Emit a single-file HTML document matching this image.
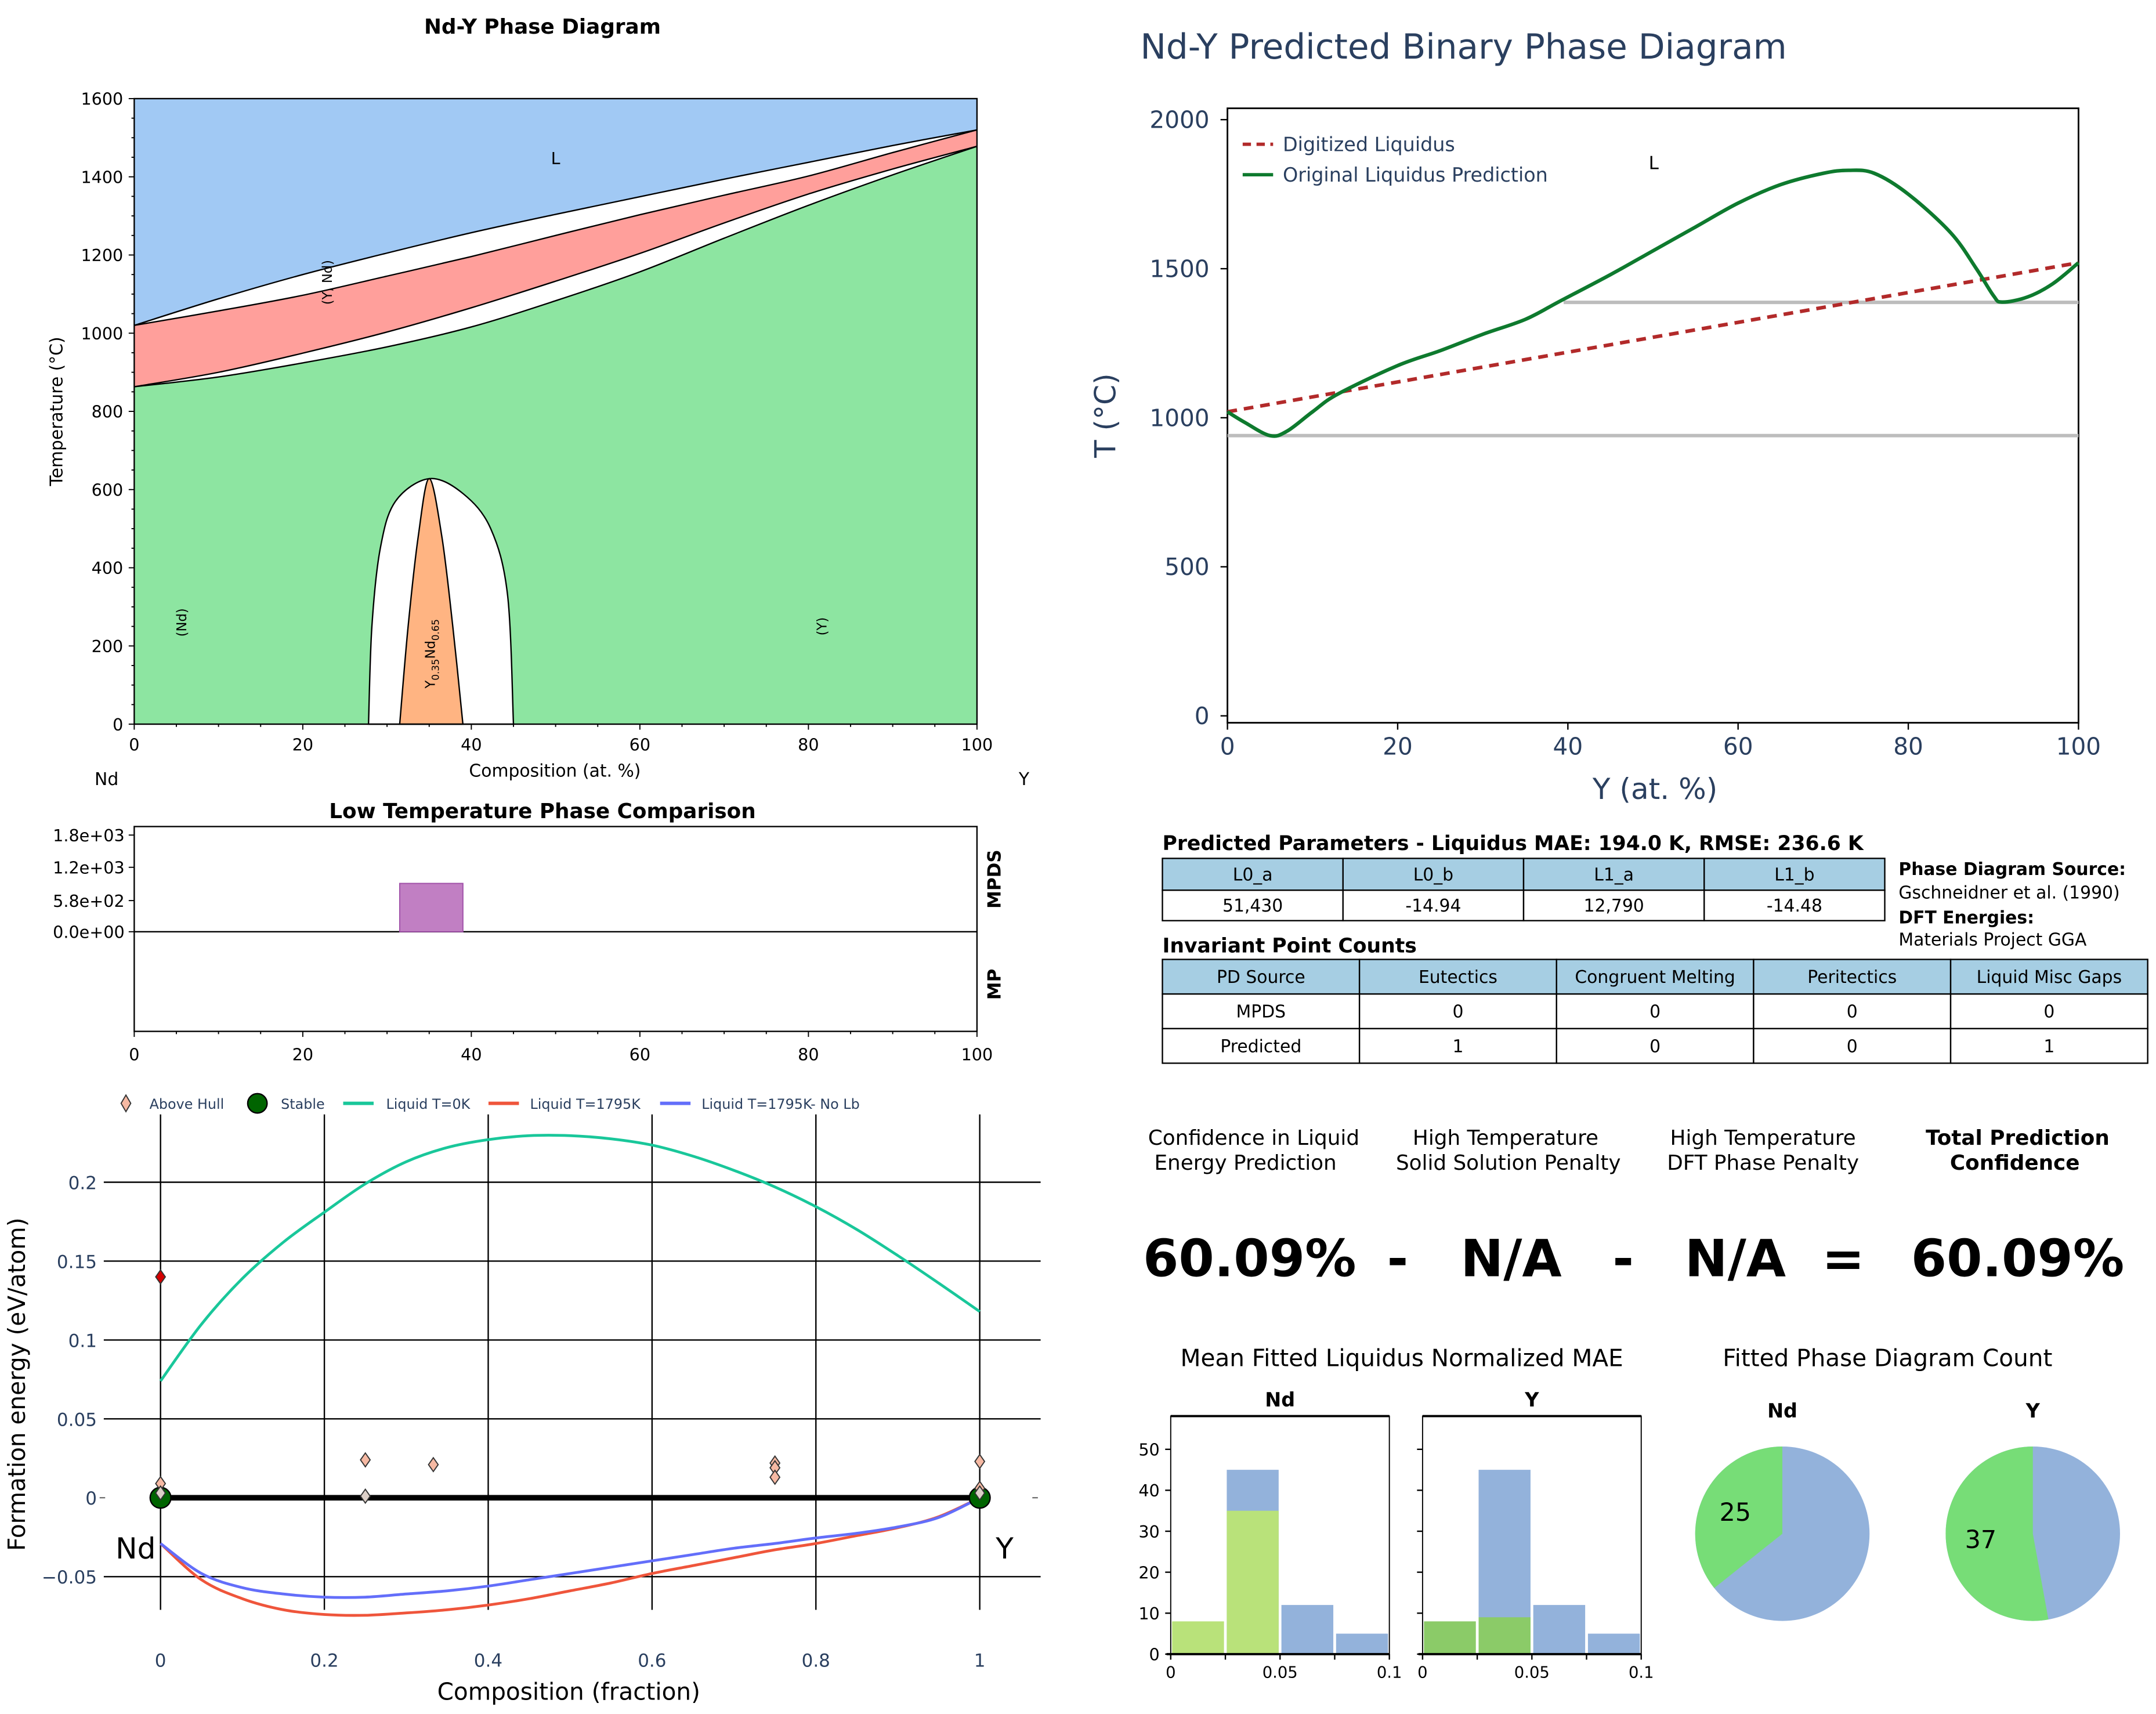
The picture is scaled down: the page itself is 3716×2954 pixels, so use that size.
<!DOCTYPE html>
<html><head><meta charset="utf-8"><style>
html,body{margin:0;padding:0;background:#fff}
svg{display:block}
text{font-family:"DejaVu Sans","Liberation Sans",sans-serif}
</style></head><body>
<svg id="root" xmlns="http://www.w3.org/2000/svg" width="3716" height="2954" viewBox="0 0 1558 1238">
<rect width="1558" height="1238" fill="#fff"/>
<g id="pd">
<text x="392" y="24" text-anchor="middle" font-size="15" font-weight="bold">Nd-Y Phase Diagram</text>
<text x="401" y="561" text-anchor="middle" font-size="12.5">Composition (at. %)</text>
<text x="77" y="567" text-anchor="middle" font-size="12.5">Nd</text>
<text x="740" y="567" text-anchor="middle" font-size="12.5">Y</text>
<text transform="translate(45,297) rotate(-90)" text-anchor="middle" font-size="12.5">Temperature (°C)</text>
</g>
<g id="lt">
<text x="392" y="591" text-anchor="middle" font-size="15" font-weight="bold">Low Temperature Phase Comparison</text>
<rect x="97" y="597" width="609" height="148" fill="none" stroke="#000" stroke-width="1"/>
<line x1="97" y1="673" x2="706" y2="673" stroke="#000" stroke-width="1"/>
<text transform="translate(723,635) rotate(-90)" text-anchor="middle" font-size="13" font-weight="bold">MPDS</text>
<text transform="translate(723,711) rotate(-90)" text-anchor="middle" font-size="13" font-weight="bold">MP</text>
</g>
<g id="fe">
<text transform="translate(18,1000) rotate(-90)" text-anchor="middle" font-size="17" fill="#000">Formation energy (eV/atom)</text>
<text x="411" y="1228" text-anchor="middle" font-size="17" fill="#000">Composition (fraction)</text>
<text x="98" y="1126" text-anchor="middle" font-size="21">Nd</text>
<text x="726" y="1126" text-anchor="middle" font-size="21">Y</text>
</g>
<g id="rt">
<text x="824" y="42" font-size="25" fill="#2a3f5f">Nd-Y Predicted Binary Phase Diagram</text>
<text x="1196" y="577" text-anchor="middle" font-size="21" fill="#2a3f5f">Y (at. %)</text>
<text transform="translate(806,300) rotate(-90)" text-anchor="middle" font-size="21" fill="#2a3f5f">T (°C)</text>
<text x="1195" y="122" text-anchor="middle" font-size="13">L</text>
</g>
<g id="tb">
<text x="840" y="614" font-size="14.5" font-weight="bold">Predicted Parameters - Liquidus MAE: 194.0 K, RMSE: 236.6 K</text>
<text x="840" y="688" font-size="14.5" font-weight="bold">Invariant Point Counts</text>
<text x="1372" y="632" font-size="12.5" font-weight="bold">Phase Diagram Source:</text>
<text x="1372" y="649" font-size="12.5">Gschneidner et al. (1990)</text>
<text x="1372" y="667" font-size="12.5" font-weight="bold">DFT Energies:</text>
<text x="1372" y="683" font-size="12.5">Materials Project GGA</text>
</g>
<g id="cf">
<text x="906" y="827" text-anchor="middle" font-size="15">Confidence in Liquid</text>
<text x="900" y="845" text-anchor="middle" font-size="15">Energy Prediction</text>
<text x="1088" y="827" text-anchor="middle" font-size="15">High Temperature</text>
<text x="1090" y="845" text-anchor="middle" font-size="15">Solid Solution Penalty</text>
<text x="1274" y="827" text-anchor="middle" font-size="15">High Temperature</text>
<text x="1274" y="845" text-anchor="middle" font-size="15">DFT Phase Penalty</text>
<text x="1458" y="827" text-anchor="middle" font-size="15" font-weight="bold">Total Prediction</text>
<text x="1456" y="845" text-anchor="middle" font-size="15" font-weight="bold">Confidence</text>
<text x="903" y="922" text-anchor="middle" font-size="37" font-weight="bold">60.09%</text>
<text x="1010" y="922" text-anchor="middle" font-size="37" font-weight="bold">-</text>
<text x="1092" y="922" text-anchor="middle" font-size="37" font-weight="bold">N/A</text>
<text x="1173" y="922" text-anchor="middle" font-size="37" font-weight="bold">-</text>
<text x="1254" y="922" text-anchor="middle" font-size="37" font-weight="bold">N/A</text>
<text x="1332" y="922" text-anchor="middle" font-size="37" font-weight="bold">=</text>
<text x="1458" y="922" text-anchor="middle" font-size="37" font-weight="bold">60.09%</text>
</g>
<g id="hist">
<text x="1013" y="987" text-anchor="middle" font-size="17">Mean Fitted Liquidus Normalized MAE</text>
</g>
<g id="pies">
<text x="1364" y="987" text-anchor="middle" font-size="17">Fitted Phase Diagram Count</text>
</g>
</svg>
<script>
const NS="http://www.w3.org/2000/svg";
function el(tag,attrs,parent,txt){const e=document.createElementNS(NS,tag);for(const k in attrs)e.setAttribute(k,attrs[k]);if(txt!==undefined)e.textContent=txt;(parent||document.getElementById('root')).appendChild(e);return e;}
function smooth(pts){let d='M'+pts[0][0]+','+pts[0][1];for(let i=0;i<pts.length-1;i++){const p0=pts[Math.max(i-1,0)],p1=pts[i],p2=pts[i+1],p3=pts[Math.min(i+2,pts.length-1)];const c1=[p1[0]+(p2[0]-p0[0])/6,p1[1]+(p2[1]-p0[1])/6],c2=[p2[0]-(p3[0]-p1[0])/6,p2[1]-(p3[1]-p1[1])/6];d+=' C'+c1[0].toFixed(2)+','+c1[1].toFixed(2)+' '+c2[0].toFixed(2)+','+c2[1].toFixed(2)+' '+p2[0].toFixed(2)+','+p2[1].toFixed(2);}return d;}

const pdX=[0,10,20,30,40,50,60,70,80,90,100];
const pdLiquidus=[1020,1088,1150,1205,1257,1304,1349,1394,1437,1480,1520];
const pdRedTop=[1020,1057,1097,1146,1196,1250,1303,1353,1402,1462,1520];
const pdRedBottom=[863,900,949,1003,1065,1133,1204,1282,1356,1420,1478];
const pdSolidus=[863,888,924,965,1016,1083,1157,1243,1327,1405,1478];
const pdDomeOuter=[[27.8,0],[28.2,250],[29.2,450],[31,570],[35,628],[39,590],[42.3,500],[44.3,330],[45,0]];
const pdDomeInner=[[31.5,0],[32.5,250],[33.7,480],[35,628],[36.5,480],[37.8,250],[39,0]];
const pdXTicks=[0,20,40,60,80,100];
const pdYTicks=[0,200,400,600,800,1000,1200,1400,1600];
(function(){
const g=document.getElementById('pd');
const px=x=>97+x*6.09, pT=T=>523-T*0.2825;
const line=arr=>pdX.map((x,i)=>[px(x),pT(arr[i])]);
const bg=el('rect',{x:97,y:71,width:609,height:452,fill:'#ffffff'},g);


const liq=line(pdLiquidus);
const blue=el('path',{d:smooth(liq)+' L706,71 L97,71 Z',fill:'#a1c9f4'},g);


const rt=line(pdRedTop), rb=line(pdRedBottom);
const red=el('path',{d:smooth(rt)+' L'+rb[rb.length-1].join(',')+' '+smooth(rb.slice().reverse()).replace(/^M[^ ]+/,'')+' Z',fill:'#ff9f9b'},g);


const sol=line(pdSolidus);
const green=el('path',{d:smooth(sol)+' L706,523 L97,523 Z',fill:'#8de5a1'},g);


const dO=pdDomeOuter.map(p=>[px(p[0]),pT(p[1])]);
const dome=el('path',{d:smooth(dO)+' Z',fill:'#ffffff',stroke:'#000','stroke-width':1},g);


const dI=pdDomeInner.map(p=>[px(p[0]),pT(p[1])]);
const inner=el('path',{d:smooth(dI)+' Z',fill:'#ffb482',stroke:'#000','stroke-width':1},g);


[liq,rt,rb,sol].forEach((ln,i)=>{const b=el('path',{d:smooth(ln),fill:'none',stroke:'#000','stroke-width':1},g);

});
const fr=el('rect',{x:97,y:71,width:609,height:452,fill:'none',stroke:'#000','stroke-width':1},g);


for(let v=0;v<=100;v+=5){const t=el('line',{x1:px(v),x2:px(v),y1:523,y2:v%20==0?527:525,stroke:'#000','stroke-width':0.8},g);

}
for(let v=0;v<=1600;v+=50){const t=el('line',{x1:97,x2:v%200==0?93:95,y1:pT(v),y2:pT(v),stroke:'#000','stroke-width':0.8},g);

}
pdXTicks.forEach(v=>{const t=el('text',{x:px(v),y:542,'text-anchor':'middle','font-size':12},g,String(v));

});
pdYTicks.forEach(v=>{const t=el('text',{x:89,y:pT(v)+4.5,'text-anchor':'end','font-size':12},g,String(v));

});
const L=el('text',{x:px(50),y:pT(1450)+5,'text-anchor':'middle','font-size':12},g,'L');


const labs=[['(Y, Nd)',22.8,1130],['(Nd)',5.5,260],['(Y)',81.5,250]];
labs.forEach(l=>{const t=el('text',{transform:'translate('+(px(l[1])+4)+','+pT(l[2])+') rotate(-90)','text-anchor':'middle','font-size':9.5},g,l[0]);

});
const cmp=el('text',{transform:'translate('+(px(35)+4)+','+pT(180)+') rotate(-90)','text-anchor':'middle','font-size':9.5},g);


cmp.innerHTML='Y<tspan font-size="7" dy="3">0.35</tspan><tspan dy="-3">Nd</tspan><tspan font-size="7" dy="3">0.65</tspan>';
})();

const ltTickVals=[0,580,1200,1800];
const ltTickLabels=['0.0e+00','5.8e+02','1.2e+03','1.8e+03'];
const ltBarStart=[31.5];
const ltBarEnd=[39];
const ltBarHeight=[900];
(function(){
const g=document.getElementById('lt');
const px=x=>97+x*6.09, py=v=>673-v*0.0388;
ltBarStart.forEach((s,i)=>{const b=el('rect',{x:px(s),y:py(ltBarHeight[i]),width:px(ltBarEnd[i])-px(s),height:673-py(ltBarHeight[i]),fill:'#c17fc3',stroke:'#a050a8','stroke-width':0.8},g);

});
ltTickVals.forEach((v,i)=>{const t=el('line',{x1:93,x2:97,y1:py(v),y2:py(v),stroke:'#000','stroke-width':0.8},g);


const l=el('text',{x:90,y:py(v)+4.5,'text-anchor':'end','font-size':12},g,ltTickLabels[i]);

});
for(let v=0;v<=100;v+=5){const t=el('line',{x1:px(v),x2:px(v),y1:745,y2:v%20==0?749:747,stroke:'#000','stroke-width':0.8},g);

}
[0,20,40,60,80,100].forEach(v=>{const t=el('text',{x:px(v),y:766,'text-anchor':'middle','font-size':12},g,String(v));

});
})();

const feX=[0,0.05,0.1,0.15,0.2,0.25,0.3,0.35,0.4,0.45,0.5,0.55,0.6,0.65,0.7,0.75,0.8,0.85,0.9,0.95,1];
const feLiquid0K=[0.074,0.110,0.139,0.162,0.181,0.199,0.213,0.222,0.227,0.2295,0.2295,0.2275,0.2235,0.2165,0.2075,0.197,0.1845,0.170,0.1535,0.136,0.118];
const feLiquid1795=[-0.029,-0.052,-0.064,-0.071,-0.074,-0.0745,-0.073,-0.071,-0.068,-0.064,-0.059,-0.054,-0.048,-0.043,-0.038,-0.033,-0.029,-0.024,-0.019,-0.012,0];
const feLiquidNoLb=[-0.029,-0.048,-0.057,-0.061,-0.063,-0.063,-0.061,-0.059,-0.056,-0.052,-0.048,-0.044,-0.040,-0.036,-0.032,-0.029,-0.0255,-0.0225,-0.0185,-0.0125,0];
const hullX=[0,0,0,0.25,0.25,0.333,0.75,0.75,0.75,1,1,1];
const hullE=[0.14,0.009,0.003,0.024,0.001,0.021,0.022,0.019,0.013,0.023,0.006,0.003];
const stableX=[0,1];
const stableE=[0,0];
const feXTicks=[0,0.2,0.4,0.6,0.8,1];
const feXTickLabels=['0','0.2','0.4','0.6','0.8','1'];
const feYTicks=[-0.05,0,0.05,0.1,0.15,0.2];
const feYTickLabels=['−0.05','0','0.05','0.1','0.15','0.2'];
(function(){
const g=document.getElementById('fe');
const px=x=>116+x*592, py=v=>1082-v*1140;
feYTicks.forEach((v,i)=>{if(v!==0){const l=el('line',{x1:75,x2:752,y1:py(v),y2:py(v),stroke:'#000','stroke-width':1},g);

}
const t=el('text',{x:70,y:py(v)+5,'text-anchor':'end','font-size':13,fill:'#2a3f5f'},g,feYTickLabels[i]);

});
[[72,76],[746,750]].forEach(d=>{const l=el('line',{x1:d[0],x2:d[1],y1:py(0),y2:py(0),stroke:'#555','stroke-width':0.8},g);

});
feXTicks.forEach((v,i)=>{const l=el('line',{x1:px(v),x2:px(v),y1:805,y2:1163,stroke:'#000','stroke-width':1},g);


const t=el('text',{x:px(v),y:1204,'text-anchor':'middle','font-size':13,fill:'#2a3f5f'},g,feXTickLabels[i]);

});
const series=[[feLiquid0K,'#19c79a','liquid-0k-line'],[feLiquid1795,'#ef553b','liquid-1795k-line'],[feLiquidNoLb,'#636efa','liquid-1795k-no-lb-line']];
series.forEach(s=>{const p=el('path',{d:smooth(feX.map((x,i)=>[px(x),py(s[0][i])])),fill:'none',stroke:s[1],'stroke-width':2},g);

});
const hull=el('line',{x1:px(stableX[0]),x2:px(stableX[1]),y1:py(stableE[0]),y2:py(stableE[1]),stroke:'#000','stroke-width':4},g);


stableX.forEach((x,i)=>{const c=el('circle',{cx:px(x),cy:py(stableE[i]),r:7.5,fill:'#006400',stroke:'#000','stroke-width':1},g);

});
hullX.forEach((x,i)=>{const cx=px(x),cy=py(hullE[i]);const col=i==0?'#d40000':(i==2||i==4||i==11?'#ddd0c8':'#f6b9a3');
const d=el('path',{d:`M${cx},${cy-5} L${cx+3.5},${cy} L${cx},${cy+5} L${cx-3.5},${cy} Z`,fill:col,stroke:'#333','stroke-width':0.8},g);

});
const lg=el('g',{},g);


const di=el('path',{d:'M91,791 L94.5,797 L91,803 L87.5,797 Z',fill:'#f6b9a3',stroke:'#333','stroke-width':0.8},lg);


const sc=el('circle',{cx:186,cy:797,r:7,fill:'#006400',stroke:'#000'},lg);


const items=[[108,'Above Hull'],[203,'Stable'],[279,'Liquid T=0K'],[383,'Liquid T=1795K'],[507,'Liquid T=1795K- No Lb']];
items.forEach(it=>{const t=el('text',{x:it[0],y:801,'font-size':10,fill:'#2a3f5f'},lg,it[1]);

});
[[248,'#19c79a'],[353,'#ef553b'],[477,'#636efa']].forEach(s=>{const l=el('line',{x1:s[0],x2:s[0]+22,y1:797,y2:797,stroke:s[1],'stroke-width':2.5},lg);

});
})();

const rtX=[0,2,5,7,10,13,20,25,30,35,39,45,50,55,60,65,70,73,76,80,85,88,90,91,94,97,100];
const rtLiquidus=[1020,985,940,955,1020,1080,1175,1225,1280,1330,1390,1480,1560,1640,1720,1782,1820,1830,1820,1750,1620,1500,1410,1388,1405,1450,1520];
const rtDigX=[0,100];
const rtDigT=[1020,1520];
const rtInvT=[1387,940];
const rtInvStart=[39.5,0];
const rtXTicks=[0,20,40,60,80,100];
const rtYTicks=[0,500,1000,1500,2000];
(function(){
const g=document.getElementById('rt');
const px=x=>887+x*6.15, py=T=>517-T*0.2154;
const fr=el('rect',{x:887,y:78,width:615,height:444,fill:'none',stroke:'#000','stroke-width':1.2},g);


rtInvT.forEach((T,i)=>{const l=el('line',{x1:px(rtInvStart[i]),x2:1502,y1:py(T),y2:py(T),stroke:'#bdbdbd','stroke-width':2.5},g);

});
const dl=el('line',{x1:px(rtDigX[0]),x2:px(rtDigX[1]),y1:py(rtDigT[0]),y2:py(rtDigT[1]),stroke:'#b22a2a','stroke-width':2.6,'stroke-dasharray':'7,5'},g);


const gl=el('path',{d:smooth(rtX.map((x,i)=>[px(x),py(rtLiquidus[i])])),fill:'none',stroke:'#0e7a2e','stroke-width':2.6},g);


rtXTicks.forEach(v=>{const t=el('line',{x1:px(v),x2:px(v),y1:522,y2:527,stroke:'#000'},g);


const l=el('text',{x:px(v),y:545,'text-anchor':'middle','font-size':17,fill:'#2a3f5f'},g,String(v));

});
rtYTicks.forEach(v=>{const t=el('line',{x1:882,x2:887,y1:py(v),y2:py(v),stroke:'#000'},g);


const l=el('text',{x:874,y:py(v)+6,'text-anchor':'end','font-size':17,fill:'#2a3f5f'},g,String(v));

});
const l1=el('line',{x1:898,x2:920,y1:104,y2:104,stroke:'#b22a2a','stroke-width':2.4,'stroke-dasharray':'6,4'},g);


const l2=el('line',{x1:898,x2:920,y1:126,y2:126,stroke:'#0e7a2e','stroke-width':2.4},g);


const t1=el('text',{x:927,y:109,'font-size':14,fill:'#2a3f5f'},g,'Digitized Liquidus');


const t2=el('text',{x:927,y:131,'font-size':14,fill:'#2a3f5f'},g,'Original Liquidus Prediction');


})();

const paramHeaders=['L0_a','L0_b','L1_a','L1_b'];
const paramValues=['51,430','-14.94','12,790','-14.48'];
const invHeaders=['PD Source','Eutectics','Congruent Melting','Peritectics','Liquid Misc Gaps'];
const invRows=[['MPDS','0','0','0','0'],['Predicted','1','0','0','1']];
(function(){
const g=document.getElementById('tb');
function table(x0,x1,ys,rows,name){const n=rows[0].length,w=(x1-x0)/n;
rows.forEach((r,ri)=>{r.forEach((c,ci)=>{const cell=el('rect',{x:x0+ci*w,y:ys[ri],width:w,height:ys[ri+1]-ys[ri],fill:ri==0?'#a6cee3':'#fff',stroke:'#000','stroke-width':1},g);


const t=el('text',{x:x0+ci*w+w/2,y:(ys[ri]+ys[ri+1])/2+4.5,'text-anchor':'middle','font-size':12.5},g,c);

});});}
table(840,1362,[620,643,665],[paramHeaders,paramValues],'params-table');
table(840,1552,[693,718,743,768],[invHeaders].concat(invRows),'invariant-table');
})();

const binEdges=[0,0.025,0.05,0.075,0.1];
const ndBlue=[0,45,12,5];
const ndGreen=[8,35,0,0];
const yBlue=[0,45,12,5];
const yGreen=[8,9,0,0];
const histYTicks=[0,10,20,30,40,50];
(function(){
const g=document.getElementById('hist');
const panels=[[846,'Nd',ndBlue,ndGreen,'#b9e27a'],[1028,'Y',yBlue,yGreen,'#8bcb68']];
const py=v=>1195-v*2.96;
panels.forEach((p,pi)=>{const x0=p[0],w=158,px=x=>x0+x/0.1*w;
const ti=el('text',{x:x0+w/2,y:1016,'text-anchor':'middle','font-size':14,'font-weight':'bold'},g,p[1]);


for(let i=0;i<4;i++){if(p[2][i]>0){const b=el('rect',{x:px(binEdges[i])+1,y:py(p[2][i]),width:px(binEdges[i+1])-px(binEdges[i])-2,height:1195-py(p[2][i]),fill:'#93b2db'},g);

}
if(p[3][i]>0){const b=el('rect',{x:px(binEdges[i])+1,y:py(p[3][i]),width:px(binEdges[i+1])-px(binEdges[i])-2,height:1195-py(p[3][i]),fill:p[4]},g);

}}
const fr=el('rect',{x:x0,y:1023,width:w,height:172,fill:'none',stroke:'#000','stroke-width':0.8},g);


const top=el('line',{x1:x0,x2:x0+w,y1:1023,y2:1023,stroke:'#000','stroke-width':1.6},g);


const bot=el('line',{x1:x0-3,x2:x0+w,y1:1195,y2:1195,stroke:'#000','stroke-width':1.6},g);


histYTicks.forEach(v=>{const t=el('line',{x1:x0-4,x2:x0,y1:py(v),y2:py(v),stroke:'#000'},g);


if(pi==0){const l=el('text',{x:838,y:py(v)+4.5,'text-anchor':'end','font-size':12},g,String(v));

}});
binEdges.forEach(v=>{const t=el('line',{x1:px(v),x2:px(v),y1:1195,y2:1199,stroke:'#000'},g);

});
[[0,'0'],[0.05,'0.05'],[0.1,'0.1']].forEach(v=>{const l=el('text',{x:px(v[0]),y:1212,'text-anchor':'middle','font-size':11.5},g,v[1]);

});});
})();

const pieNames=['Nd','Y'];
const pieGreen=[25,37];
const pieBlue=[45,33];
(function(){
const g=document.getElementById('pies');
const cxs=[1288,1469],cy=1108,r=63;
pieNames.forEach((n,i)=>{const cx=cxs[i],tot=pieGreen[i]+pieBlue[i],a=pieGreen[i]/tot*2*Math.PI;
const ex=cx-r*Math.sin(a),ey=cy-r*Math.cos(a);
const bl=el('circle',{cx:cx,cy:cy,r:r,fill:'#93b2db'},g);


const gr=el('path',{d:`M${cx},${cy} L${cx},${cy-r} A${r},${r} 0 ${a>Math.PI?1:0} 0 ${ex},${ey} Z`,fill:'#77dd77'},g);


const mid=a/2,lx=cx-0.6*r*Math.sin(mid),ly=cy-0.6*r*Math.cos(mid);
const lt=el('text',{x:lx,y:ly+7,'text-anchor':'middle','font-size':18},g,String(pieGreen[i]));


const t=el('text',{x:cx,y:1024,'text-anchor':'middle','font-size':14,'font-weight':'bold'},g,n);

});
})();
</script>
</body></html>
